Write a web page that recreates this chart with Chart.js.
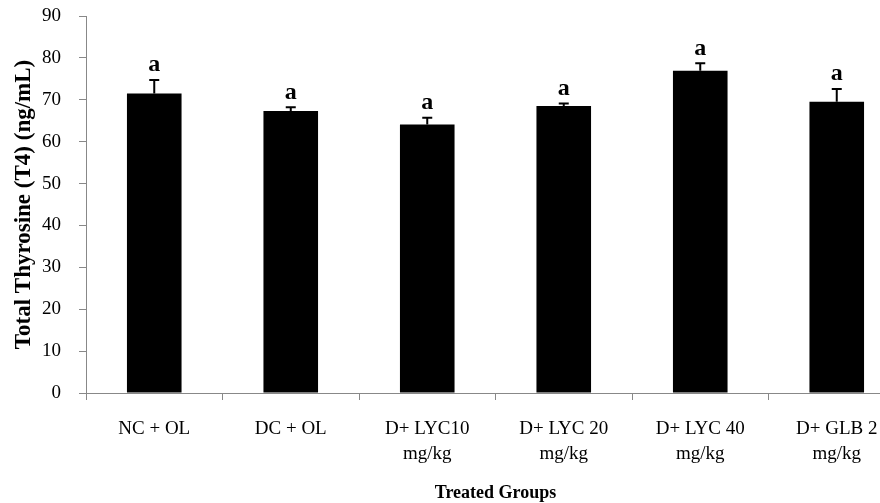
<!DOCTYPE html>
<html>
<head>
<meta charset="utf-8">
<script src="https://cdn.jsdelivr.net/npm/chart.js@4.4.1/dist/chart.umd.min.js"></script>
<style>
  html, body { margin: 0; padding: 0; background: #fff; overflow: hidden; }
  #wrap { position: absolute; left: 0; top: 0; width: 915px; height: 503px; }
</style>
</head>
<body>
<div id="wrap"><canvas id="graph--t4"></canvas></div>
<script>
// Treated groups along the x-axis
const groups = [
  ['NC + OL'],
  ['DC + OL'],
  ['D+ LYC10', 'mg/kg'],
  ['D+ LYC 20', 'mg/kg'],
  ['D+ LYC 40', 'mg/kg'],
  ['D+ GLB 2', 'mg/kg']
]
// Mean T4 and the upper error for each group
const t4Means = [71.5, 67.3, 64.1, 68.5, 76.9, 69.5]
const t4Errors = [3.2, 0.9, 1.6, 0.6, 1.8, 3.1]
const letters = ['a', 'a', 'a', 'a', 'a', 'a']
const yTicks = [0, 10, 20, 30, 40, 50, 60, 70, 80, 90]

const serif = "'Liberation Serif', 'Times New Roman', serif"

// error bars and significance letters on top of the bars
const errorBars = {
  id: 'errorBars',
  afterDatasetsDraw(chart) {
    const ctx = chart.ctx
    const y = chart.scales.y
    const meta = chart.getDatasetMeta(0)
    ctx.save()
    ctx.strokeStyle = '#000'
    ctx.lineWidth = 2
    ctx.fillStyle = '#000'
    ctx.font = 'bold 24px ' + serif
    ctx.textAlign = 'center'
    ctx.textBaseline = 'bottom'
    meta.data.forEach((bar, i) => {
      const yBar = y.getPixelForValue(t4Means[i])
      const yTop = y.getPixelForValue(t4Means[i] + t4Errors[i])
      ctx.beginPath()
      ctx.moveTo(bar.x, yBar)
      ctx.lineTo(bar.x, yTop)
      ctx.moveTo(bar.x - 5, yTop)
      ctx.lineTo(bar.x + 5, yTop)
      ctx.stroke()
      ctx.fillText(letters[i], bar.x, yTop - 3)
    })
    ctx.restore()
  }
}

const t4Chart = new Chart(document.querySelector('#graph--t4'), {
  type: 'bar',
  data: {
    labels: groups,
    datasets: [
      {
        data: t4Means,
        backgroundColor: '#000',
        borderWidth: 0,
        barPercentage: 0.4,
        categoryPercentage: 1
      }
    ]
  },
  options: {
    responsive: true,
    maintainAspectRatio: false,
    animation: false,
    layout: { padding: { left: 0, right: 10, top: 16, bottom: 0 } },
    plugins: {
      legend: { display: false },
      tooltip: { enabled: false }
    },
    scales: {
      x: {
        grid: { drawOnChartArea: false, color: '#888', tickLength: 7, offset: true },
        border: { color: '#888', width: 1 },
        ticks: {
          color: '#000',
          padding: 16,
          maxRotation: 0,
          autoSkip: false,
          font: { family: serif, size: 19, lineHeight: 1.35 }
        },
        title: {
          display: true,
          text: 'Treated Groups',
          color: '#000',
          padding: { top: 0, bottom: -1 },
          font: { family: serif, size: 18, weight: 'bold' }
        },
        afterFit(scale) {
          scale.height = 110
          scale.paddingLeft = 0
          scale.paddingRight = 0
        }
      },
      y: {
        min: 0,
        max: 90,
        afterBuildTicks(scale) { scale.ticks = yTicks.map(v => ({ value: v })) },
        grid: { drawOnChartArea: false, color: '#888', tickLength: 7 },
        border: { color: '#888', width: 1 },
        ticks: {
          color: '#000',
          padding: 18,
          font: { family: serif, size: 19 }
        },
        title: {
          display: true,
          text: 'Total Thyrosine (T4) (ng/mL)',
          color: '#000',
          padding: { top: 10, bottom: 0 },
          font: { family: serif, size: 23, weight: 'bold' }
        },
        afterFit(scale) {
          scale.width = 86
          scale.paddingTop = 0
          scale.paddingBottom = 0
        }
      }
    }
  },
  plugins: [errorBars]
})
</script>
</body>
</html>
